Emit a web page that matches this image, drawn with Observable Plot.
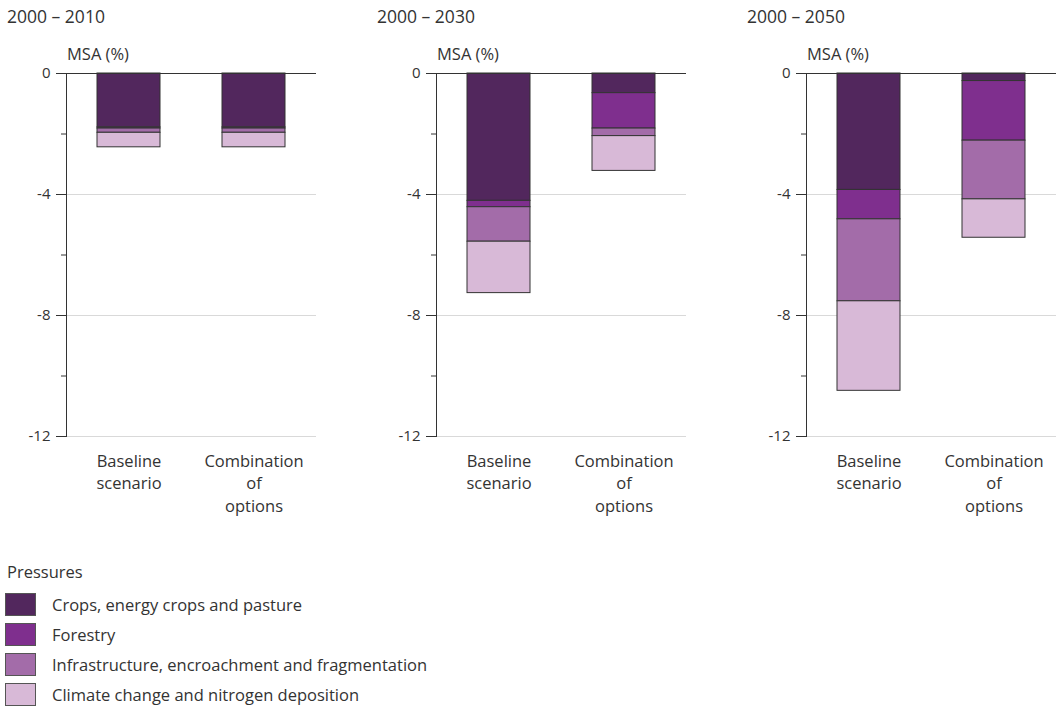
<!DOCTYPE html>
<html><head><meta charset="utf-8">
<script src="https://cdn.jsdelivr.net/npm/d3@7"></script>
<script src="https://cdn.jsdelivr.net/npm/@observablehq/plot@0.6"></script>
<style>
body{margin:0;background:#fff;font-family:"Open Sans",sans-serif;color:#333}
#root{position:relative;width:1056px;height:709px;overflow:hidden}
.panel{position:absolute;top:0;width:316px;height:540px}
.title{position:absolute;left:7px;top:4px;font-size:17.5px;white-space:nowrap}
.ylab{position:absolute;left:67px;top:42px;font-size:16.5px;white-space:nowrap}
.chart{position:absolute;left:0;top:40px}
#legend{position:absolute;left:7px;top:560px;font-size:16.5px}
#legend .head{margin-bottom:6px}
#legend .row{display:flex;align-items:center;height:30px;margin-left:-2px}
#legend .sw{width:29px;height:21px;border:1px solid #555;margin-right:16px}
</style></head>
<body><div id="root"></div>
<script>
const periods = ["2000 – 2010", "2000 – 2030", "2000 – 2050"];
const scenarios = ["Baseline scenario", "Combination of options"];
const scenarioLabels = ["Baseline\nscenario", "Combination\nof\noptions"];
const pressures = ["Crops, energy crops and pasture", "Forestry", "Infrastructure, encroachment and fragmentation", "Climate change and nitrogen deposition"];
const colors = ["#52275d", "#7f2f8e", "#a36ca9", "#d8b9d7"];
const majorTicks = [0, -4, -8, -12];
const minorTicks = [-2, -6, -10];
// MSA change per pressure (%), order: crops, forestry, infrastructure, climate
const baseline2010 = [-1.78, -0.04, -0.14, -0.48];
const options2010 = [-1.78, -0.04, -0.14, -0.48];
const baseline2030 = [-4.21, -0.21, -1.14, -1.70];
const options2030 = [-0.65, -1.17, -0.25, -1.15];
const baseline2050 = [-3.85, -0.97, -2.71, -2.96];
const options2050 = [-0.25, -1.97, -1.94, -1.27];

const panelValues = [[baseline2010, options2010], [baseline2030, options2030], [baseline2050, options2050]];
const root = document.getElementById("root");

function makeChart(values) {
  const data = [];
  scenarios.forEach((s, i) => pressures.forEach((p, j) => data.push({scenario: s, pressure: p, value: values[i][j]})));
  return Plot.plot({
    width: 316, height: 486,
    marginLeft: 66, marginRight: 0, marginTop: 33, marginBottom: 90,
    style: {fontFamily: "Open Sans, sans-serif", fontSize: "15px", color: "#333", background: "transparent", overflow: "visible"},
    x: {domain: scenarios, paddingInner: 0.5, paddingOuter: 0.25, axis: null},
    y: {domain: [-12, 0], axis: null},
    color: {domain: pressures, range: colors},
    marks: [
      Plot.gridY(majorTicks.slice(1), {stroke: "#d9d9d9", strokeOpacity: 1}),
      Plot.barY(data, {x: "scenario", y: "value", fill: "pressure", stroke: "#333", strokeWidth: 1}),
      Plot.ruleY([0], {stroke: "#333"}),
      Plot.frame({anchor: "left", stroke: "#333"}),
      Plot.axisY({ticks: majorTicks, tickSize: 10, tickPadding: 6, label: null, fontSize: 15, tickFormat: d => String(d)}),
      Plot.axisY({ticks: minorTicks, tickSize: 5, tickFormat: () => "", label: null}),
      Plot.axisX({tickSize: 0, tickPadding: 14, label: null, fontSize: 16.5, lineHeight: 1.38,
        tickFormat: d => scenarioLabels[scenarios.indexOf(d)]})
    ]
  });
}

periods.forEach((period, k) => {
  const div = document.createElement("div");
  div.className = "panel";
  div.style.left = (k * 370) + "px";
  const t = document.createElement("div"); t.className = "title"; t.textContent = period; div.appendChild(t);
  const yl = document.createElement("div"); yl.className = "ylab"; yl.textContent = "MSA (%)"; div.appendChild(yl);
  const c = document.createElement("div"); c.className = "chart"; c.appendChild(makeChart(panelValues[k])); div.appendChild(c);
  root.appendChild(div);
});

const legend = document.createElement("div");
legend.id = "legend";
const head = document.createElement("div"); head.className = "head"; head.textContent = "Pressures"; legend.appendChild(head);
pressures.forEach((p, i) => {
  const row = document.createElement("div"); row.className = "row";
  const sw = document.createElement("div"); sw.className = "sw"; sw.style.background = colors[i];
  const lab = document.createElement("span"); lab.textContent = p;
  row.appendChild(sw); row.appendChild(lab); legend.appendChild(row);
});
root.appendChild(legend);
</script></body></html>
